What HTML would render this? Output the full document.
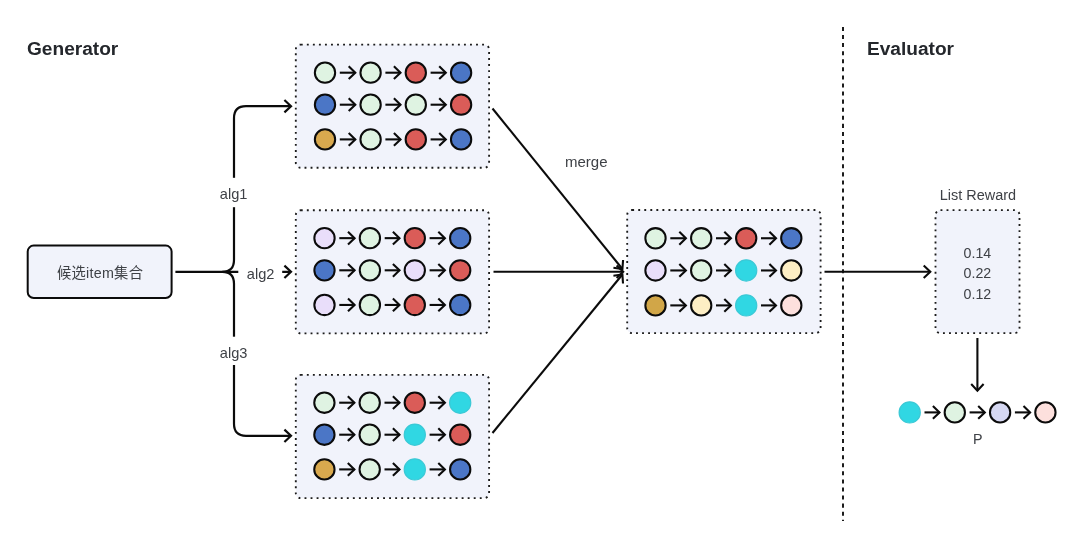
<!DOCTYPE html>
<html lang="zh">
<head>
<meta charset="utf-8">
<title>Generator / Evaluator</title>
<style>
html, body { margin: 0; padding: 0; background: #ffffff; }
body { width: 1080px; height: 542px; overflow: hidden; }
svg { display: block; will-change: transform; }
svg text { font-family: "Liberation Sans", "Noto Sans CJK SC", sans-serif; }
</style>
</head>
<body>
<svg width="1080" height="542" viewBox="0 0 1080 542">
<rect x="0" y="0" width="1080" height="542" fill="#ffffff"/>
<text x="27" y="54.5" font-size="19.1" font-weight="700" text-anchor="start" fill="#24272c">Generator</text>
<text x="867" y="54.5" font-size="19.1" font-weight="700" text-anchor="start" fill="#24272c">Evaluator</text>
<path d="M843 26.9V521" stroke="#1c1c1c" stroke-width="2" stroke-dasharray="4.04 4.04" fill="none"/>
<rect x="27.7" y="245.6" width="143.9" height="52.4" rx="6" ry="6" fill="#f1f3fb" stroke="#0b0b0b" stroke-width="2"/>
<text x="100.1" y="278.2" font-size="14.3" letter-spacing="0.25" text-anchor="middle" fill="#3e4146">候选item集合</text>
<path d="M175.4 271.8H291" stroke="#0b0b0b" stroke-width="2.2" fill="none"/>
<path d="M291 106.2H246Q234 106.2 234 118.2V259.8Q234 271.8 222.5 271.8Q234 271.8 234 283.8V423.8Q234 435.8 246 435.8H291" stroke="#0b0b0b" stroke-width="2.2" fill="none" stroke-linejoin="round"/>
<path d="M284.40 100.00L291.00 106.20L284.40 112.40" fill="none" stroke="#0b0b0b" stroke-width="2.2" stroke-linejoin="miter" stroke-linecap="butt"/>
<path d="M284.40 265.60L291.00 271.80L284.40 278.00" fill="none" stroke="#0b0b0b" stroke-width="2.2" stroke-linejoin="miter" stroke-linecap="butt"/>
<path d="M284.40 429.60L291.00 435.80L284.40 442.00" fill="none" stroke="#0b0b0b" stroke-width="2.2" stroke-linejoin="miter" stroke-linecap="butt"/>
<rect x="216" y="177.8" width="36" height="29.399999999999977" fill="#fff"/>
<text x="233.6" y="198.9" font-size="14.6" font-weight="400" text-anchor="middle" fill="#3e4146">alg1</text>
<rect x="238.3" y="262" width="43.89999999999998" height="20" fill="#fff"/>
<text x="260.6" y="278.6" font-size="14.6" font-weight="400" text-anchor="middle" fill="#3e4146">alg2</text>
<rect x="216" y="336.7" width="36" height="28.30000000000001" fill="#fff"/>
<text x="233.6" y="357.9" font-size="14.6" font-weight="400" text-anchor="middle" fill="#3e4146">alg3</text>
<rect x="295.8" y="44.6" width="193.3" height="123.20000000000002" rx="5" ry="5" fill="#f1f3fb" stroke="none"/>
<rect x="295.8" y="44.6" width="193.3" height="123.20000000000002" rx="5" ry="5" fill="none" stroke="#1c1c1c" stroke-width="1.85" stroke-dasharray="1.9 4.143" stroke-linecap="butt"/>
<path d="M339.80 72.7H355.30" stroke="#0b0b0b" stroke-width="2.1" fill="none"/>
<path d="M348.70 66.30L355.30 72.70L348.70 79.10" fill="none" stroke="#0b0b0b" stroke-width="2.1" stroke-linejoin="miter" stroke-linecap="butt"/>
<path d="M385.40 72.7H400.50" stroke="#0b0b0b" stroke-width="2.1" fill="none"/>
<path d="M393.90 66.30L400.50 72.70L393.90 79.10" fill="none" stroke="#0b0b0b" stroke-width="2.1" stroke-linejoin="miter" stroke-linecap="butt"/>
<path d="M430.60 72.7H445.80" stroke="#0b0b0b" stroke-width="2.1" fill="none"/>
<path d="M439.20 66.30L445.80 72.70L439.20 79.10" fill="none" stroke="#0b0b0b" stroke-width="2.1" stroke-linejoin="miter" stroke-linecap="butt"/>
<circle cx="325.0" cy="72.7" r="10.15" fill="#dff3e2" stroke="#0b0b0b" stroke-width="2.05"/>
<circle cx="370.6" cy="72.7" r="10.15" fill="#dff3e2" stroke="#0b0b0b" stroke-width="2.05"/>
<circle cx="415.8" cy="72.7" r="10.15" fill="#da5c58" stroke="#0b0b0b" stroke-width="2.05"/>
<circle cx="461.1" cy="72.7" r="10.15" fill="#4b76c6" stroke="#0b0b0b" stroke-width="2.05"/>
<path d="M339.80 104.7H355.30" stroke="#0b0b0b" stroke-width="2.1" fill="none"/>
<path d="M348.70 98.30L355.30 104.70L348.70 111.10" fill="none" stroke="#0b0b0b" stroke-width="2.1" stroke-linejoin="miter" stroke-linecap="butt"/>
<path d="M385.40 104.7H400.50" stroke="#0b0b0b" stroke-width="2.1" fill="none"/>
<path d="M393.90 98.30L400.50 104.70L393.90 111.10" fill="none" stroke="#0b0b0b" stroke-width="2.1" stroke-linejoin="miter" stroke-linecap="butt"/>
<path d="M430.60 104.7H445.80" stroke="#0b0b0b" stroke-width="2.1" fill="none"/>
<path d="M439.20 98.30L445.80 104.70L439.20 111.10" fill="none" stroke="#0b0b0b" stroke-width="2.1" stroke-linejoin="miter" stroke-linecap="butt"/>
<circle cx="325.0" cy="104.7" r="10.15" fill="#4b76c6" stroke="#0b0b0b" stroke-width="2.05"/>
<circle cx="370.6" cy="104.7" r="10.15" fill="#dff3e2" stroke="#0b0b0b" stroke-width="2.05"/>
<circle cx="415.8" cy="104.7" r="10.15" fill="#dff3e2" stroke="#0b0b0b" stroke-width="2.05"/>
<circle cx="461.1" cy="104.7" r="10.15" fill="#da5c58" stroke="#0b0b0b" stroke-width="2.05"/>
<path d="M339.80 139.4H355.30" stroke="#0b0b0b" stroke-width="2.1" fill="none"/>
<path d="M348.70 133.00L355.30 139.40L348.70 145.80" fill="none" stroke="#0b0b0b" stroke-width="2.1" stroke-linejoin="miter" stroke-linecap="butt"/>
<path d="M385.40 139.4H400.50" stroke="#0b0b0b" stroke-width="2.1" fill="none"/>
<path d="M393.90 133.00L400.50 139.40L393.90 145.80" fill="none" stroke="#0b0b0b" stroke-width="2.1" stroke-linejoin="miter" stroke-linecap="butt"/>
<path d="M430.60 139.4H445.80" stroke="#0b0b0b" stroke-width="2.1" fill="none"/>
<path d="M439.20 133.00L445.80 139.40L439.20 145.80" fill="none" stroke="#0b0b0b" stroke-width="2.1" stroke-linejoin="miter" stroke-linecap="butt"/>
<circle cx="325.0" cy="139.4" r="10.15" fill="#d9a94e" stroke="#0b0b0b" stroke-width="2.05"/>
<circle cx="370.6" cy="139.4" r="10.15" fill="#dff3e2" stroke="#0b0b0b" stroke-width="2.05"/>
<circle cx="415.8" cy="139.4" r="10.15" fill="#da5c58" stroke="#0b0b0b" stroke-width="2.05"/>
<circle cx="461.1" cy="139.4" r="10.15" fill="#4b76c6" stroke="#0b0b0b" stroke-width="2.05"/>
<rect x="295.8" y="210.2" width="193.3" height="123.19999999999999" rx="5" ry="5" fill="#f1f3fb" stroke="none"/>
<rect x="295.8" y="210.2" width="193.3" height="123.19999999999999" rx="5" ry="5" fill="none" stroke="#1c1c1c" stroke-width="1.85" stroke-dasharray="1.9 4.143" stroke-linecap="butt"/>
<path d="M339.30 238.15H354.60" stroke="#0b0b0b" stroke-width="2.1" fill="none"/>
<path d="M348.00 231.75L354.60 238.15L348.00 244.55" fill="none" stroke="#0b0b0b" stroke-width="2.1" stroke-linejoin="miter" stroke-linecap="butt"/>
<path d="M384.70 238.15H399.50" stroke="#0b0b0b" stroke-width="2.1" fill="none"/>
<path d="M392.90 231.75L399.50 238.15L392.90 244.55" fill="none" stroke="#0b0b0b" stroke-width="2.1" stroke-linejoin="miter" stroke-linecap="butt"/>
<path d="M429.60 238.15H444.90" stroke="#0b0b0b" stroke-width="2.1" fill="none"/>
<path d="M438.30 231.75L444.90 238.15L438.30 244.55" fill="none" stroke="#0b0b0b" stroke-width="2.1" stroke-linejoin="miter" stroke-linecap="butt"/>
<circle cx="324.5" cy="238.15" r="10.15" fill="#e9defa" stroke="#0b0b0b" stroke-width="2.05"/>
<circle cx="369.9" cy="238.15" r="10.15" fill="#dff3e2" stroke="#0b0b0b" stroke-width="2.05"/>
<circle cx="414.8" cy="238.15" r="10.15" fill="#da5c58" stroke="#0b0b0b" stroke-width="2.05"/>
<circle cx="460.2" cy="238.15" r="10.15" fill="#4b76c6" stroke="#0b0b0b" stroke-width="2.05"/>
<path d="M339.30 270.3H354.60" stroke="#0b0b0b" stroke-width="2.1" fill="none"/>
<path d="M348.00 263.90L354.60 270.30L348.00 276.70" fill="none" stroke="#0b0b0b" stroke-width="2.1" stroke-linejoin="miter" stroke-linecap="butt"/>
<path d="M384.70 270.3H399.50" stroke="#0b0b0b" stroke-width="2.1" fill="none"/>
<path d="M392.90 263.90L399.50 270.30L392.90 276.70" fill="none" stroke="#0b0b0b" stroke-width="2.1" stroke-linejoin="miter" stroke-linecap="butt"/>
<path d="M429.60 270.3H444.90" stroke="#0b0b0b" stroke-width="2.1" fill="none"/>
<path d="M438.30 263.90L444.90 270.30L438.30 276.70" fill="none" stroke="#0b0b0b" stroke-width="2.1" stroke-linejoin="miter" stroke-linecap="butt"/>
<circle cx="324.5" cy="270.3" r="10.15" fill="#4b76c6" stroke="#0b0b0b" stroke-width="2.05"/>
<circle cx="369.9" cy="270.3" r="10.15" fill="#dff3e2" stroke="#0b0b0b" stroke-width="2.05"/>
<circle cx="414.8" cy="270.3" r="10.15" fill="#e9defa" stroke="#0b0b0b" stroke-width="2.05"/>
<circle cx="460.2" cy="270.3" r="10.15" fill="#da5c58" stroke="#0b0b0b" stroke-width="2.05"/>
<path d="M339.30 304.95H354.60" stroke="#0b0b0b" stroke-width="2.1" fill="none"/>
<path d="M348.00 298.55L354.60 304.95L348.00 311.35" fill="none" stroke="#0b0b0b" stroke-width="2.1" stroke-linejoin="miter" stroke-linecap="butt"/>
<path d="M384.70 304.95H399.50" stroke="#0b0b0b" stroke-width="2.1" fill="none"/>
<path d="M392.90 298.55L399.50 304.95L392.90 311.35" fill="none" stroke="#0b0b0b" stroke-width="2.1" stroke-linejoin="miter" stroke-linecap="butt"/>
<path d="M429.60 304.95H444.90" stroke="#0b0b0b" stroke-width="2.1" fill="none"/>
<path d="M438.30 298.55L444.90 304.95L438.30 311.35" fill="none" stroke="#0b0b0b" stroke-width="2.1" stroke-linejoin="miter" stroke-linecap="butt"/>
<circle cx="324.5" cy="304.95" r="10.15" fill="#e9defa" stroke="#0b0b0b" stroke-width="2.05"/>
<circle cx="369.9" cy="304.95" r="10.15" fill="#dff3e2" stroke="#0b0b0b" stroke-width="2.05"/>
<circle cx="414.8" cy="304.95" r="10.15" fill="#da5c58" stroke="#0b0b0b" stroke-width="2.05"/>
<circle cx="460.2" cy="304.95" r="10.15" fill="#4b76c6" stroke="#0b0b0b" stroke-width="2.05"/>
<rect x="295.8" y="374.9" width="193.3" height="123.20000000000005" rx="5" ry="5" fill="#f1f3fb" stroke="none"/>
<rect x="295.8" y="374.9" width="193.3" height="123.20000000000005" rx="5" ry="5" fill="none" stroke="#1c1c1c" stroke-width="1.85" stroke-dasharray="1.9 4.143" stroke-linecap="butt"/>
<path d="M339.20 402.7H354.40" stroke="#0b0b0b" stroke-width="2.1" fill="none"/>
<path d="M347.80 396.30L354.40 402.70L347.80 409.10" fill="none" stroke="#0b0b0b" stroke-width="2.1" stroke-linejoin="miter" stroke-linecap="butt"/>
<path d="M384.50 402.7H399.50" stroke="#0b0b0b" stroke-width="2.1" fill="none"/>
<path d="M392.90 396.30L399.50 402.70L392.90 409.10" fill="none" stroke="#0b0b0b" stroke-width="2.1" stroke-linejoin="miter" stroke-linecap="butt"/>
<path d="M429.60 402.7H444.90" stroke="#0b0b0b" stroke-width="2.1" fill="none"/>
<path d="M438.30 396.30L444.90 402.70L438.30 409.10" fill="none" stroke="#0b0b0b" stroke-width="2.1" stroke-linejoin="miter" stroke-linecap="butt"/>
<circle cx="324.4" cy="402.7" r="10.15" fill="#dff3e2" stroke="#0b0b0b" stroke-width="2.05"/>
<circle cx="369.7" cy="402.7" r="10.15" fill="#dff3e2" stroke="#0b0b0b" stroke-width="2.05"/>
<circle cx="414.8" cy="402.7" r="10.15" fill="#da5c58" stroke="#0b0b0b" stroke-width="2.05"/>
<circle cx="460.2" cy="402.7" r="10.58" fill="#30d7e3" stroke="#3bc9d6" stroke-width="1.2"/>
<path d="M339.20 434.7H354.40" stroke="#0b0b0b" stroke-width="2.1" fill="none"/>
<path d="M347.80 428.30L354.40 434.70L347.80 441.10" fill="none" stroke="#0b0b0b" stroke-width="2.1" stroke-linejoin="miter" stroke-linecap="butt"/>
<path d="M384.50 434.7H399.50" stroke="#0b0b0b" stroke-width="2.1" fill="none"/>
<path d="M392.90 428.30L399.50 434.70L392.90 441.10" fill="none" stroke="#0b0b0b" stroke-width="2.1" stroke-linejoin="miter" stroke-linecap="butt"/>
<path d="M429.60 434.7H444.90" stroke="#0b0b0b" stroke-width="2.1" fill="none"/>
<path d="M438.30 428.30L444.90 434.70L438.30 441.10" fill="none" stroke="#0b0b0b" stroke-width="2.1" stroke-linejoin="miter" stroke-linecap="butt"/>
<circle cx="324.4" cy="434.7" r="10.15" fill="#4b76c6" stroke="#0b0b0b" stroke-width="2.05"/>
<circle cx="369.7" cy="434.7" r="10.15" fill="#dff3e2" stroke="#0b0b0b" stroke-width="2.05"/>
<circle cx="414.8" cy="434.7" r="10.58" fill="#30d7e3" stroke="#3bc9d6" stroke-width="1.2"/>
<circle cx="460.2" cy="434.7" r="10.15" fill="#da5c58" stroke="#0b0b0b" stroke-width="2.05"/>
<path d="M339.20 469.4H354.40" stroke="#0b0b0b" stroke-width="2.1" fill="none"/>
<path d="M347.80 463.00L354.40 469.40L347.80 475.80" fill="none" stroke="#0b0b0b" stroke-width="2.1" stroke-linejoin="miter" stroke-linecap="butt"/>
<path d="M384.50 469.4H399.50" stroke="#0b0b0b" stroke-width="2.1" fill="none"/>
<path d="M392.90 463.00L399.50 469.40L392.90 475.80" fill="none" stroke="#0b0b0b" stroke-width="2.1" stroke-linejoin="miter" stroke-linecap="butt"/>
<path d="M429.60 469.4H444.90" stroke="#0b0b0b" stroke-width="2.1" fill="none"/>
<path d="M438.30 463.00L444.90 469.40L438.30 475.80" fill="none" stroke="#0b0b0b" stroke-width="2.1" stroke-linejoin="miter" stroke-linecap="butt"/>
<circle cx="324.4" cy="469.4" r="10.15" fill="#d9a94e" stroke="#0b0b0b" stroke-width="2.05"/>
<circle cx="369.7" cy="469.4" r="10.15" fill="#dff3e2" stroke="#0b0b0b" stroke-width="2.05"/>
<circle cx="414.8" cy="469.4" r="10.58" fill="#30d7e3" stroke="#3bc9d6" stroke-width="1.2"/>
<circle cx="460.2" cy="469.4" r="10.15" fill="#4b76c6" stroke="#0b0b0b" stroke-width="2.05"/>
<path d="M492.5 108.5L622.4 269.0" stroke="#0b0b0b" stroke-width="2.1" fill="none"/>
<path d="M623.07 259.97L622.40 269.00L613.43 267.77" fill="none" stroke="#0b0b0b" stroke-width="2.1" stroke-linejoin="miter" stroke-linecap="butt"/>
<path d="M493.5 271.8L623.2 271.8" stroke="#0b0b0b" stroke-width="2.1" fill="none"/>
<path d="M616.60 265.60L623.20 271.80L616.60 278.00" fill="none" stroke="#0b0b0b" stroke-width="2.1" stroke-linejoin="miter" stroke-linecap="butt"/>
<path d="M492.5 433.0L622.4 274.5" stroke="#0b0b0b" stroke-width="2.1" fill="none"/>
<path d="M613.42 275.67L622.40 274.50L623.01 283.53" fill="none" stroke="#0b0b0b" stroke-width="2.1" stroke-linejoin="miter" stroke-linecap="butt"/>
<text x="586.3" y="167.2" font-size="15" font-weight="400" text-anchor="middle" fill="#3e4146">merge</text>
<rect x="627.2" y="210.0" width="193.39999999999998" height="123.10000000000002" rx="5" ry="5" fill="#f1f3fb" stroke="none"/>
<rect x="627.2" y="210.0" width="193.39999999999998" height="123.10000000000002" rx="5" ry="5" fill="none" stroke="#1c1c1c" stroke-width="1.85" stroke-dasharray="1.9 4.143" stroke-linecap="butt"/>
<path d="M670.30 238.25H685.90" stroke="#0b0b0b" stroke-width="2.1" fill="none"/>
<path d="M679.30 231.85L685.90 238.25L679.30 244.65" fill="none" stroke="#0b0b0b" stroke-width="2.1" stroke-linejoin="miter" stroke-linecap="butt"/>
<path d="M716.00 238.25H730.90" stroke="#0b0b0b" stroke-width="2.1" fill="none"/>
<path d="M724.30 231.85L730.90 238.25L724.30 244.65" fill="none" stroke="#0b0b0b" stroke-width="2.1" stroke-linejoin="miter" stroke-linecap="butt"/>
<path d="M761.00 238.25H776.00" stroke="#0b0b0b" stroke-width="2.1" fill="none"/>
<path d="M769.40 231.85L776.00 238.25L769.40 244.65" fill="none" stroke="#0b0b0b" stroke-width="2.1" stroke-linejoin="miter" stroke-linecap="butt"/>
<circle cx="655.5" cy="238.25" r="10.15" fill="#dff3e2" stroke="#0b0b0b" stroke-width="2.05"/>
<circle cx="701.2" cy="238.25" r="10.15" fill="#dff3e2" stroke="#0b0b0b" stroke-width="2.05"/>
<circle cx="746.2" cy="238.25" r="10.15" fill="#da5c58" stroke="#0b0b0b" stroke-width="2.05"/>
<circle cx="791.3" cy="238.25" r="10.15" fill="#4b76c6" stroke="#0b0b0b" stroke-width="2.05"/>
<path d="M670.30 270.45H685.90" stroke="#0b0b0b" stroke-width="2.1" fill="none"/>
<path d="M679.30 264.05L685.90 270.45L679.30 276.85" fill="none" stroke="#0b0b0b" stroke-width="2.1" stroke-linejoin="miter" stroke-linecap="butt"/>
<path d="M716.00 270.45H730.90" stroke="#0b0b0b" stroke-width="2.1" fill="none"/>
<path d="M724.30 264.05L730.90 270.45L724.30 276.85" fill="none" stroke="#0b0b0b" stroke-width="2.1" stroke-linejoin="miter" stroke-linecap="butt"/>
<path d="M761.00 270.45H776.00" stroke="#0b0b0b" stroke-width="2.1" fill="none"/>
<path d="M769.40 264.05L776.00 270.45L769.40 276.85" fill="none" stroke="#0b0b0b" stroke-width="2.1" stroke-linejoin="miter" stroke-linecap="butt"/>
<circle cx="655.5" cy="270.45" r="10.15" fill="#e9defa" stroke="#0b0b0b" stroke-width="2.05"/>
<circle cx="701.2" cy="270.45" r="10.15" fill="#dff3e2" stroke="#0b0b0b" stroke-width="2.05"/>
<circle cx="746.2" cy="270.45" r="10.58" fill="#30d7e3" stroke="#3bc9d6" stroke-width="1.2"/>
<circle cx="791.3" cy="270.45" r="10.15" fill="#fdeec4" stroke="#0b0b0b" stroke-width="2.05"/>
<path d="M670.30 305.4H685.90" stroke="#0b0b0b" stroke-width="2.1" fill="none"/>
<path d="M679.30 299.00L685.90 305.40L679.30 311.80" fill="none" stroke="#0b0b0b" stroke-width="2.1" stroke-linejoin="miter" stroke-linecap="butt"/>
<path d="M716.00 305.4H730.90" stroke="#0b0b0b" stroke-width="2.1" fill="none"/>
<path d="M724.30 299.00L730.90 305.40L724.30 311.80" fill="none" stroke="#0b0b0b" stroke-width="2.1" stroke-linejoin="miter" stroke-linecap="butt"/>
<path d="M761.00 305.4H776.00" stroke="#0b0b0b" stroke-width="2.1" fill="none"/>
<path d="M769.40 299.00L776.00 305.40L769.40 311.80" fill="none" stroke="#0b0b0b" stroke-width="2.1" stroke-linejoin="miter" stroke-linecap="butt"/>
<circle cx="655.5" cy="305.4" r="10.15" fill="#d1a648" stroke="#0b0b0b" stroke-width="2.05"/>
<circle cx="701.2" cy="305.4" r="10.15" fill="#fdeec4" stroke="#0b0b0b" stroke-width="2.05"/>
<circle cx="746.2" cy="305.4" r="10.58" fill="#30d7e3" stroke="#3bc9d6" stroke-width="1.2"/>
<circle cx="791.3" cy="305.4" r="10.15" fill="#fde0dd" stroke="#0b0b0b" stroke-width="2.05"/>
<path d="M824.5 271.8L930.3 271.8" stroke="#0b0b0b" stroke-width="2.1" fill="none"/>
<path d="M923.70 265.60L930.30 271.80L923.70 278.00" fill="none" stroke="#0b0b0b" stroke-width="2.1" stroke-linejoin="miter" stroke-linecap="butt"/>
<text x="977.9" y="200.0" font-size="14.45" font-weight="400" text-anchor="middle" fill="#3e4146">List Reward</text>
<rect x="935.5" y="210.1" width="84.0" height="123.00000000000003" rx="5" ry="5" fill="#f1f3fb" stroke="none"/>
<rect x="935.5" y="210.1" width="84.0" height="123.00000000000003" rx="5" ry="5" fill="none" stroke="#1c1c1c" stroke-width="1.85" stroke-dasharray="1.9 4.143" stroke-linecap="butt"/>
<text x="977.4" y="257.5" font-size="14.2" font-weight="400" text-anchor="middle" fill="#3e4146">0.14</text>
<text x="977.4" y="278.2" font-size="14.2" font-weight="400" text-anchor="middle" fill="#3e4146">0.22</text>
<text x="977.4" y="298.7" font-size="14.2" font-weight="400" text-anchor="middle" fill="#3e4146">0.12</text>
<path d="M977.4 338L977.4 390.6" stroke="#0b0b0b" stroke-width="2.1" fill="none"/>
<path d="M983.60 384.00L977.40 390.60L971.20 384.00" fill="none" stroke="#0b0b0b" stroke-width="2.1" stroke-linejoin="miter" stroke-linecap="butt"/>
<path d="M924.50 412.4H939.50" stroke="#0b0b0b" stroke-width="2.1" fill="none"/>
<path d="M932.90 406.00L939.50 412.40L932.90 418.80" fill="none" stroke="#0b0b0b" stroke-width="2.1" stroke-linejoin="miter" stroke-linecap="butt"/>
<path d="M969.60 412.4H984.80" stroke="#0b0b0b" stroke-width="2.1" fill="none"/>
<path d="M978.20 406.00L984.80 412.40L978.20 418.80" fill="none" stroke="#0b0b0b" stroke-width="2.1" stroke-linejoin="miter" stroke-linecap="butt"/>
<path d="M1014.90 412.4H1030.10" stroke="#0b0b0b" stroke-width="2.1" fill="none"/>
<path d="M1023.50 406.00L1030.10 412.40L1023.50 418.80" fill="none" stroke="#0b0b0b" stroke-width="2.1" stroke-linejoin="miter" stroke-linecap="butt"/>
<circle cx="909.7" cy="412.4" r="10.58" fill="#30d7e3" stroke="#3bc9d6" stroke-width="1.2"/>
<circle cx="954.8" cy="412.4" r="10.15" fill="#dff3e2" stroke="#0b0b0b" stroke-width="2.05"/>
<circle cx="1000.1" cy="412.4" r="10.15" fill="#d6d8f2" stroke="#0b0b0b" stroke-width="2.05"/>
<circle cx="1045.4" cy="412.4" r="10.15" fill="#fde0dd" stroke="#0b0b0b" stroke-width="2.05"/>
<text x="977.8" y="444.3" font-size="14.3" font-weight="400" text-anchor="middle" fill="#3e4146">P</text>
</svg>
</body>
</html>
